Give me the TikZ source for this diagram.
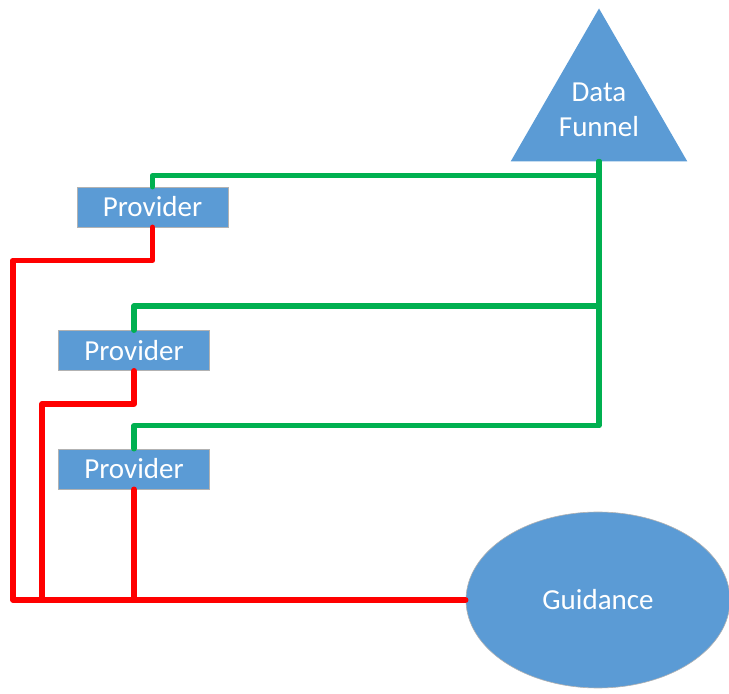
\documentclass[tikz,border=0pt]{standalone}
\usepackage{fontspec}
\setmainfont{Carlito}
\usepackage{xcolor}
\usepackage{tikz}
\usetikzlibrary{positioning, shapes.geometric}

\definecolor{shapeblue}{HTML}{5B9BD5}
\definecolor{linkgreen}{HTML}{00B050}
\definecolor{linkred}{HTML}{FF0000}

\begin{document}
\begin{tikzpicture}[
    x=1pt, y=1pt,
    % Define common styles
        provbox/.style={draw=white!70!black, line width=0.6pt, fill=shapeblue, rectangle, text=white, minimum width=151pt, minimum height=40pt, inner sep=0pt, font=\fontsize{29}{34}\selectfont},
        funnelshape/.style={regular polygon, regular polygon sides=3, fill=shapeblue, minimum size=204pt, inner sep=0pt},
        funneltext/.style={text=white, align=center, font=\fontsize{29}{35}\selectfont},
        guideshape/.style={ellipse, fill=shapeblue, draw=white!70!black, line width=0.6pt, minimum width=264pt, minimum height=176pt, inner sep=0pt, text=white, font=\fontsize{29}{34}\selectfont},
        greenline/.style={draw=linkgreen, line width=5.5pt, line join=round, line cap=round},
        redline/.style={draw=linkred, line width=5.5pt, line join=round, line cap=round}
    ]

        \useasboundingbox (0,0) rectangle (729,694);

        % Data funnel at the top right
        \node[funnelshape] (funnel) at (599,583.5) {};
        \node[funneltext] (funnellabel) at (599,584) {Data\\Funnel};

        % The three providers
        \node[provbox] (prov1) at (152.5,487) {Provider};
        \node[provbox] (prov2) at (134,343.5) {Provider};
        \node[provbox] (prov3) at (134,225) {Provider};

        % Guidance ellipse
        \node[guideshape] (guidance) at (598,94) {Guidance};

        % Return buses on the left
        \coordinate (outerbus) at (13,94);
        \coordinate (innerbus) at (42,94);

        % Green links up to the funnel
        \draw[greenline] (prov1.north) -- ++(0,11) -| (funnel.south);
        \draw[greenline] (prov2.north) -- ++(0,24) -| (funnel.south);
        \draw[greenline] (prov3.north) -- ++(0,23) -| (funnel.south);

        % Red links down to the guidance
        \draw[redline] (prov1.south) -- ++(0,-33) -| (outerbus) -- (guidance.west);
        \draw[redline] (prov2.south) -- ++(0,-33) -| (innerbus);
        \draw[redline] (prov3.south) -- (prov3.south |- guidance.west);

\end{tikzpicture}
\end{document}
